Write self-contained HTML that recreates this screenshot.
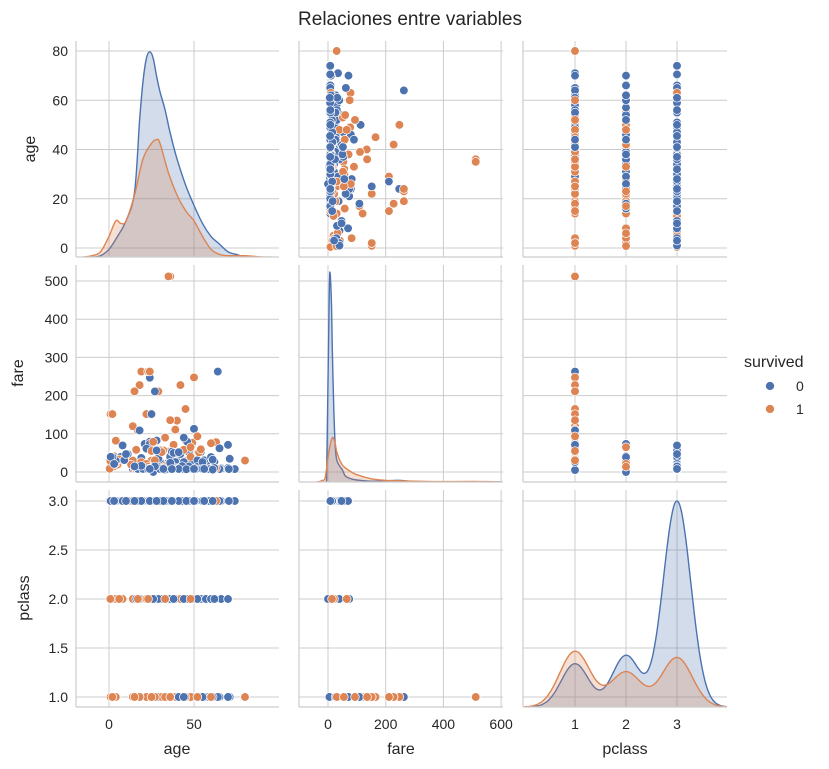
<!DOCTYPE html>
<html><head><meta charset="utf-8"><style>
body{margin:0;background:#fff;}
svg{display:block;font-family:"Liberation Sans","DejaVu Sans",sans-serif;}
</style></head><body>
<svg id="chart" width="829" height="769" viewBox="0 0 829 769"></svg>
<script>
// ---- data ----
const c1dAge=[54,45,40,28,19,71,47,24,36,65,46,58,50,62,56,37,30,38,45,64,24,27,49,31,52,41,29,22,33,61,55,18,2,25,44,70];
const c1dFare=[51.9,83.5,27.7,82.2,26,34.7,52,247,40,62,79.2,29.7,113,26.55,30.7,53.1,27.7,50,28.5,263,79.2,211,25.9,52,30.5,51.9,35.5,61.2,5,32.3,26,108.9,151.55,151.55,90,71];
const c1sAge=[38,35,58,4,49,63,19,23,40,24,29,80,16,36,35,0.9,17,30,44,50,14,39,48,26,42,53,54,22,31,60,33,18,45,2,15,27,52,25,36];
const c1sFare=[71.3,53.1,26.55,81.9,76.7,78,263,263,134.5,263,211,30,58,512,512,151.55,108.9,56.9,58,247.5,120,110.9,39.6,78.85,227.5,51.5,59.4,151.55,52,75.25,90,227.5,164.9,151.55,211.3,30.5,93.5,55,135.6];
const c2dAge=[35,66,27,28,54,21,32,19,23,30,57,34,42,18,39,25,50,36,70,16,24,46,31,29,44,52,60,62,38,26];
const c2dFare=[26,10.5,21,13,26,73.5,10.5,36.75,13,13,12.35,21,13,11.5,26,13,10.5,13,10.5,10.5,73.5,26,21,13,26,13.5,39,10.5,13,0];
const c2sAge=[14,55,34,3,29,21,28,5,8,1,40,24,19,45,2,36,50,32,25,62,4,30,6,42,0.8,17,22,48,33,23];
const c2sFare=[30.07,16,13,41.58,26,10.5,13,27.75,36.75,39,13,65,26,26.25,26,13,26,13,30,10.5,23,13,33,13,29,10.5,21,65,12.35,13.79];
const c3dAge=[22,35,2,20,39,14,31,19,40,28,66,42,21,18,7,49,29,65,28.5,11,22,45,4,26,32,16,21,26,25,38,44,47,33,24,17,2,9,40.5,34,51,74,59,61,55,43,36,1,30,20,27,23,41,37,3,70.5,45.5,24,19,32,28,8,10,50,15,56];
const c3dFare=[7.25,8.05,21.08,8.05,31.27,7.85,7.9,8.05,27.9,7.9,8,46.9,7.8,8.05,39.7,7.9,8.05,7.75,7.25,46.9,7.9,14.45,29.1,7.9,8.05,9.5,7.85,14.45,7.05,7.9,7.75,14.5,8.05,9.5,7.9,39.7,31.3,7.25,8.05,7.75,7.78,7.25,6.24,8.05,15.5,24.15,39.7,8.05,7.9,14.45,8.05,7.85,7.75,21.08,7.75,7.23,8.05,16.1,7.9,56.5,69.55,46.9,8.05,14.45,8.05];
const c3sAge=[26,27,4,14,22,38,15,3,29,1,19,32,18,13,0.4,21,24,5,31,36,45,63,20,27,9,16,33,25,39,17];
const c3sFare=[7.9,11.1,16.7,11.2,7.75,7.25,8.03,15.25,7.9,15.7,7.8,56.5,9.35,19.26,8.5,7.75,15.85,19.26,7.9,9.5,7.2,9.59,7.2,12.48,31.4,7.73,15.85,7.9,7.9,7.74];
const ageKdeX0=[-10,-5,0,5,10,15,18,20,22,24,26,28,30,33,36,40,45,50,55,60,65,70,75,80,85];
const ageKde0=[0,0.5,3,8,14,25,53,68,77,79.5,77,70,64,57,48,38,28,20,13,8,5,2,1,0,0];
const ageKdeX1=[-15,-10,-5,0,4,7,10,15,20,25,28,30,35,40,45,50,55,60,65,70,80,90,95];
const ageKde1=[0,0.5,2,8,14,13,14,24,38,44,45.5,44,32.5,24,18,14,8,3,1,0.5,0.5,0,0];
const fareKdeX0=[-20,-10,-5,0,5,8,12,15,20,25,30,40,50,60,80,100,150,200,250,300,400,600];
const fareKde0=[0,0,10,250,490,510,440,330,180,90,55,40,30,15,8,5,2,3,4,1,0,0];
const fareKdeX1=[-40,-30,-20,-10,0,10,17,25,30,40,50,60,80,100,150,200,250,300,400,500,550,600];
const fareKde1=[0,1,4,10,60,100,110,95,75,55,42,35,25,18,8,4,3,2,1,1.5,1,0];
const pclassCounts0=[21,25,100];
const pclassCounts1=[27,17,24];
const ageTicks=[0,20,40,60,80];
const fareTicks=[0,100,200,300,400,500];
const pclassTicks=[1.0,1.5,2.0,2.5,3.0];
const ageXTicks=[0,50];
const fareXTicks=[0,200,400,600];
const pclassXTicks=[1,2,3];

// ---- layout ----
const NS="http://www.w3.org/2000/svg";
const svg=document.getElementById('chart');
const COLS=[[76,279],[299,503],[523,727]];
const ROWS=[[41,257],[265,482],[490,707]];
const BLUE="#4c72b0",ORANGE="#dd8452",GRID="#cccccc",TXT="#262626";
const xScale=[v=>109+v*1.7, v=>328+v*0.2885, v=>575+(v-1)*51];
const yScale=[v=>248-v*2.4625, v=>472-v*0.382, v=>697-(v-1)*98];
const yTicks=[ageTicks,fareTicks,pclassTicks];
const xTicks=[ageXTicks,fareXTicks,pclassXTicks];
const names=["age","fare","pclass"];
function el(tag,attrs,parent){const e=document.createElementNS(NS,tag);for(const k in attrs)e.setAttribute(k,attrs[k]);(parent||svg).appendChild(e);return e;}
function smooth(pts){
  let d=`M${pts[0][0].toFixed(1)},${pts[0][1].toFixed(1)}`;
  for(let i=0;i<pts.length-1;i++){
    const p0=pts[Math.max(0,i-1)],p1=pts[i],p2=pts[i+1],p3=pts[Math.min(pts.length-1,i+2)];
    const c1=[p1[0]+(p2[0]-p0[0])/6,p1[1]+(p2[1]-p0[1])/6],c2=[p2[0]-(p3[0]-p1[0])/6,p2[1]-(p3[1]-p1[1])/6];
    d+=`C${c1[0].toFixed(1)},${c1[1].toFixed(1)} ${c2[0].toFixed(1)},${c2[1].toFixed(1)} ${p2[0].toFixed(1)},${p2[1].toFixed(1)}`;
  }
  return d;
}

const ages=[],fares=[],classes=[],surv=[];
const groups=[[c1dAge,c1dFare,1,0],[c1sAge,c1sFare,1,1],[c2dAge,c2dFare,2,0],[c2sAge,c2sFare,2,1],[c3dAge,c3dFare,3,0],[c3sAge,c3sFare,3,1]];
const maxLen=Math.max(...groups.map(g=>Math.min(g[0].length,g[1].length)));
for(let i=0;i<maxLen;i++){for(const g of groups){if(i<Math.min(g[0].length,g[1].length)){ages.push(g[0][i]);fares.push(g[1][i]);classes.push(g[2]);surv.push(g[3]);}}}
const vars=[ages,fares,classes];

const defs=el('defs',{});
for(let r=0;r<3;r++)for(let c=0;c<3;c++){
  const cp=el('clipPath',{id:`cp${r}${c}`},defs);
  el('rect',{x:COLS[c][0],y:ROWS[r][0]-2,width:COLS[c][1]-COLS[c][0],height:ROWS[r][1]-ROWS[r][0]+2},cp);
}

for(let r=0;r<3;r++)for(let c=0;c<3;c++){
  const g=el('g',{});
  
  
  const [x0,x1]=COLS[c],[y0,y1]=ROWS[r];
  for(const t of yTicks[r]){const y=yScale[r](t);el('line',{x1:x0,x2:x1,y1:y,y2:y,stroke:GRID,'stroke-width':1},g);}
  for(const t of xTicks[c]){const x=xScale[c](t);if(x>x0&&x<x1)el('line',{x1:x,x2:x,y1:y0,y2:y1,stroke:GRID,'stroke-width':1},g);}
  const clip=el('g',{'clip-path':`url(#cp${r}${c})`},g);
  if(r!==c){
    for(let i=0;i<ages.length;i++){
      const p=el('circle',{cx:xScale[c](vars[c][i]),cy:yScale[r](vars[r][i]),r:4.3,fill:surv[i]?ORANGE:BLUE,stroke:'#fff','stroke-width':0.7},clip);
      
      
    }
  } else {
    let x0s,x1s,s0,s1;
    if(r===0){x0s=ageKdeX0;s0=ageKde0;x1s=ageKdeX1;s1=ageKde1;}
    else if(r===1){x0s=fareKdeX0;s0=fareKde0;x1s=fareKdeX1;s1=fareKde1;}
    else{x0s=[];s0=[];s1=[];for(let v=0;v<=4.0001;v+=0.05){x0s.push(v);
      s0.push(pclassCounts0.reduce((a,n,k)=>a+n*Math.exp(-0.5*((v-(k+1))/0.27)**2),0));
      s1.push(pclassCounts1.reduce((a,n,k)=>a+n*Math.exp(-0.5*((v-(k+1))/0.3)**2),0));}x1s=x0s;}
    const mx=Math.max(...s0,...s1);const H=y1-y0;
    const dy=v=>y1-v/mx*H*0.95;
    for(const [xs,s,col,nm] of [[x0s,s0,BLUE,'kde-survived-0'],[x1s,s1,ORANGE,'kde-survived-1']]){
      const pts=xs.map((x,i)=>[xScale[c](x),dy(s[i])]);
      const d=smooth(pts);
      const a=el('path',{d:d+`L${pts[pts.length-1][0]},${y1}L${pts[0][0]},${y1}Z`,fill:col,'fill-opacity':0.25,stroke:'none'},clip);
      
      const l=el('path',{d:d,fill:'none',stroke:col,'stroke-width':1.4},clip);
      
    }
  }
  el('line',{x1:x0,x2:x0,y1:y0,y2:y1,stroke:GRID,'stroke-width':1.2},g);
  el('line',{x1:x0,x2:x1,y1:y1,y2:y1,stroke:GRID,'stroke-width':1.2},g);
}
for(let r=0;r<3;r++){for(const t of yTicks[r]){
  const tx=el('text',{x:68,y:yScale[r](t)+5,'text-anchor':'end','font-size':14,fill:TXT});
  tx.textContent=r===2?t.toFixed(1):t;
  }}
for(let c=0;c<3;c++){for(const t of xTicks[c]){
  const tx=el('text',{x:xScale[c](t),y:729,'text-anchor':'middle','font-size':14,fill:TXT});
  tx.textContent=t;
  }}
const rowLabY=[149,373,598],colLabX=[177,401,625],rowLabX=[35,23,29];
for(let i=0;i<3;i++){
  const a=el('text',{x:rowLabX[i],y:rowLabY[i],transform:`rotate(-90 ${rowLabX[i]} ${rowLabY[i]})`,'text-anchor':'middle','font-size':16,fill:TXT});
  a.textContent=names[i];
  const b=el('text',{x:colLabX[i],y:754,'text-anchor':'middle','font-size':16,fill:TXT});
  b.textContent=names[i];
}
const ti=el('text',{x:410,y:25,'text-anchor':'middle','font-size':19,fill:TXT});
ti.textContent="Relaciones entre variables";
const lg=el('g',{});
const lt=el('text',{x:744,y:367,'font-size':16,fill:TXT},lg);lt.textContent="survived";
[[BLUE,'0',386],[ORANGE,'1',409]].forEach(([col,lab,y])=>{
  const e=el('g',{},lg);
  el('circle',{cx:770,cy:y,r:4.5,fill:col,stroke:'#fff','stroke-width':0.7},e);
  const t=el('text',{x:796,y:y+5,'font-size':14,fill:TXT},e);t.textContent=lab;});
</script>
</body></html>
